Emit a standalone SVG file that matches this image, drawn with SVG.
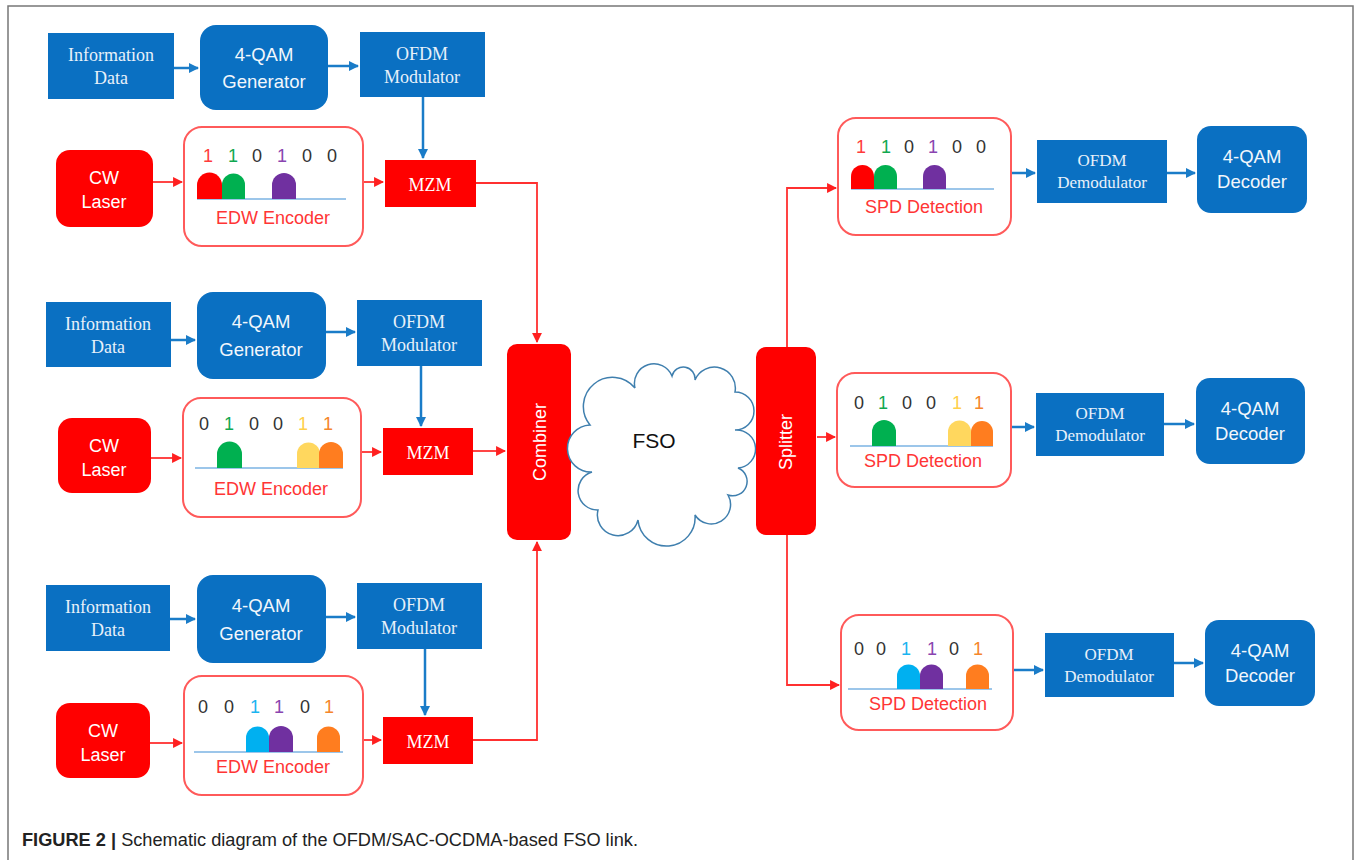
<svg xmlns="http://www.w3.org/2000/svg" width="1354" height="860" viewBox="0 0 1354 860">
<defs>
<style>
.bb{fill:#0a70c2}
.rb{fill:#ff0000}
.enc{fill:#fff;stroke:#ff5a5a;stroke-width:2}
.ts{font-family:"Liberation Serif",serif;font-size:18px;fill:#e8f1fa;text-anchor:middle}
.tsans{font-family:"Liberation Sans",Arial,sans-serif;font-size:18.5px;fill:#f2f7fc;text-anchor:middle}
.tw{font-family:"Liberation Sans",Arial,sans-serif;font-size:18px;fill:#fff;text-anchor:middle}
.tr{font-family:"Liberation Sans",Arial,sans-serif;font-size:18px;fill:#ff3535;text-anchor:middle}
.dg{font-family:"Liberation Sans",Arial,sans-serif;font-size:18px;text-anchor:middle}
.k{fill:#333}.cr{fill:#ff3b3b}.cg{fill:#10a850}.cp{fill:#8a44b0}.cy{fill:#ffcf4a}.co{fill:#f5862a}.cc{fill:#1ab4f0}
.hr{fill:#ff0000}.hg{fill:#00b050}.hp{fill:#7030a0}.hy{fill:#ffd75e}.ho{fill:#ff7d1f}.hc{fill:#00b0f0}
.bl{stroke:#9cc6ea;stroke-width:2}
.cb{fill:none;stroke:#1a7cc8;stroke-width:2.5}
.cred{fill:none;stroke:#ff3030;stroke-width:1.8}
</style>
<marker id="ab" viewBox="0 0 10 10" refX="9" refY="5" markerWidth="4" markerHeight="4" orient="auto" markerUnits="strokeWidth"><path d="M0,0 L10,5 L0,10 Z" fill="#1a7cc8"/></marker>
<marker id="ar" viewBox="0 0 10 10" refX="9" refY="5" markerWidth="5.5" markerHeight="5.5" orient="auto" markerUnits="strokeWidth"><path d="M0,0 L10,5 L0,10 Z" fill="#ff2020"/></marker>
</defs>
<rect width="1354" height="860" fill="#fff"/>
<path d="M8,860 V6 H1353 V860" fill="none" stroke="#777" stroke-width="1.5"/>

<g id="connectors">
<path class="cb" d="M174,68 H198" marker-end="url(#ab)"/>
<path class="cb" d="M328,66 H358" marker-end="url(#ab)"/>
<path class="cb" d="M423,97 V158" marker-end="url(#ab)"/>
<path class="cred" d="M153,182 H182" marker-end="url(#ar)"/>
<path class="cred" d="M363,182 H383" marker-end="url(#ar)"/>
<path class="cred" d="M476,183 H537 V342" marker-end="url(#ar)"/>
<path class="cb" d="M171,340 H195" marker-end="url(#ab)"/>
<path class="cb" d="M326,332 H355" marker-end="url(#ab)"/>
<path class="cb" d="M421,366 V426" marker-end="url(#ab)"/>
<path class="cred" d="M151,458 H181" marker-end="url(#ar)"/>
<path class="cred" d="M361,452 H381" marker-end="url(#ar)"/>
<path class="cred" d="M473,451 H505" marker-end="url(#ar)"/>
<path class="cb" d="M170,619 H195" marker-end="url(#ab)"/>
<path class="cb" d="M326,617 H355" marker-end="url(#ab)"/>
<path class="cb" d="M425,649 V715" marker-end="url(#ab)"/>
<path class="cred" d="M150,743 H182" marker-end="url(#ar)"/>
<path class="cred" d="M363,740 H381" marker-end="url(#ar)"/>
<path class="cred" d="M473,740 H537 V542" marker-end="url(#ar)"/>
<path class="cred" d="M787,347 V188 H836" marker-end="url(#ar)"/>
<path class="cred" d="M817,437 H835" marker-end="url(#ar)"/>
<path class="cred" d="M787,535 V685 H839" marker-end="url(#ar)"/>
<path class="cb" d="M1011,173 H1035" marker-end="url(#ab)"/>
<path class="cb" d="M1167,173 H1195" marker-end="url(#ab)"/>
<path class="cb" d="M1011,427 H1034" marker-end="url(#ab)"/>
<path class="cb" d="M1164,424 H1194" marker-end="url(#ab)"/>
<path class="cb" d="M1013,670 H1043" marker-end="url(#ab)"/>
<path class="cb" d="M1174,663 H1203" marker-end="url(#ab)"/>
</g>

<g id="info1"><rect class="bb" x="48" y="33" width="126" height="66"/><text class="ts" x="111" y="61">Information</text><text class="ts" x="111" y="84">Data</text></g>
<g id="qam1"><rect class="bb" x="200" y="25" width="128" height="85" rx="16"/><text class="tsans" x="264" y="61">4-QAM</text><text class="tsans" x="264" y="88">Generator</text></g>
<g id="ofdm1"><rect class="bb" x="360" y="32" width="125" height="65"/><text class="ts" x="422" y="60">OFDM</text><text class="ts" x="422" y="83">Modulator</text></g>
<g id="cw1"><rect class="rb" x="56" y="150" width="97" height="77" rx="14"/><text class="tw" x="104" y="184">CW</text><text class="tw" x="104" y="208">Laser</text></g>
<g id="enc1"><rect class="enc" x="184" y="127" width="179" height="119" rx="18"/>
<line class="bl" x1="197" y1="199" x2="346" y2="199"/>
<path class="hr" d="M197,199 V185 A12.5,12.5 0 0 1 222,185 V199 Z"/>
<path class="hg" d="M222,199 V185 A11.5,11.5 0 0 1 245,185 V199 Z"/>
<path class="hp" d="M272,199 V185 A12,12 0 0 1 296,185 V199 Z"/>
<text class="dg cr" x="208" y="162">1</text><text class="dg cg" x="233" y="162">1</text><text class="dg k" x="257" y="162">0</text><text class="dg cp" x="282" y="162">1</text><text class="dg k" x="307" y="162">0</text><text class="dg k" x="332" y="162">0</text>
<text class="tr" x="273" y="224">EDW Encoder</text></g>
<g id="mzm1"><rect class="rb" x="385" y="160" width="91" height="47"/><text class="ts" x="430" y="191" style="fill:#fff">MZM</text></g>

<g id="info2"><rect class="bb" x="46" y="302" width="125" height="65"/><text class="ts" x="108" y="330">Information</text><text class="ts" x="108" y="353">Data</text></g>
<g id="qam2"><rect class="bb" x="197" y="292" width="129" height="87" rx="16"/><text class="tsans" x="261" y="328">4-QAM</text><text class="tsans" x="261" y="356">Generator</text></g>
<g id="ofdm2"><rect class="bb" x="357" y="300" width="125" height="66"/><text class="ts" x="419" y="328">OFDM</text><text class="ts" x="419" y="351">Modulator</text></g>
<g id="cw2"><rect class="rb" x="58" y="418" width="93" height="75" rx="14"/><text class="tw" x="104" y="452">CW</text><text class="tw" x="104" y="476">Laser</text></g>
<g id="enc2"><rect class="enc" x="183" y="398" width="178" height="119" rx="18"/>
<line class="bl" x1="195" y1="468" x2="343" y2="468"/>
<path class="hg" d="M217,468 V454 A12.5,12.5 0 0 1 242,454 V468 Z"/>
<path class="hy" d="M297,468 V454 A11.5,11.5 0 0 1 320,454 V468 Z"/>
<path class="ho" d="M319,468 V454 A12,12 0 0 1 343,454 V468 Z"/>
<text class="dg k" x="204" y="430">0</text><text class="dg cg" x="229" y="430">1</text><text class="dg k" x="254" y="430">0</text><text class="dg k" x="278" y="430">0</text><text class="dg cy" x="303" y="430">1</text><text class="dg co" x="328" y="430">1</text>
<text class="tr" x="271" y="495">EDW Encoder</text></g>
<g id="mzm2"><rect class="rb" x="383" y="428" width="90" height="47"/><text class="ts" x="428" y="459" style="fill:#fff">MZM</text></g>

<g id="info3"><rect class="bb" x="46" y="585" width="124" height="66"/><text class="ts" x="108" y="613">Information</text><text class="ts" x="108" y="636">Data</text></g>
<g id="qam3"><rect class="bb" x="197" y="575" width="129" height="88" rx="16"/><text class="tsans" x="261" y="612">4-QAM</text><text class="tsans" x="261" y="640">Generator</text></g>
<g id="ofdm3"><rect class="bb" x="357" y="583" width="125" height="66"/><text class="ts" x="419" y="611">OFDM</text><text class="ts" x="419" y="634">Modulator</text></g>
<g id="cw3"><rect class="rb" x="56" y="703" width="94" height="75" rx="14"/><text class="tw" x="103" y="737">CW</text><text class="tw" x="103" y="761">Laser</text></g>
<g id="enc3"><rect class="enc" x="184" y="676" width="179" height="119" rx="18"/>
<line class="bl" x1="194" y1="752" x2="343" y2="752"/>
<path class="hc" d="M246,752 V738 A11.5,11.5 0 0 1 269,738 V752 Z"/>
<path class="hp" d="M269,752 V738 A12,12 0 0 1 293,738 V752 Z"/>
<path class="ho" d="M317,752 V738 A11.5,11.5 0 0 1 340,738 V752 Z"/>
<text class="dg k" x="203" y="713">0</text><text class="dg k" x="229" y="713">0</text><text class="dg cc" x="255" y="713">1</text><text class="dg cp" x="279" y="713">1</text><text class="dg k" x="305" y="713">0</text><text class="dg co" x="329" y="713">1</text>
<text class="tr" x="273" y="773">EDW Encoder</text></g>
<g id="mzm3"><rect class="rb" x="383" y="717" width="90" height="47"/><text class="ts" x="428" y="748" style="fill:#fff">MZM</text></g>

<g id="combiner"><rect class="rb" x="507" y="344" width="64" height="196" rx="10"/><text class="tw" transform="translate(546,442) rotate(-90)" x="0" y="0">Combiner</text></g>
<g id="fso">
<path d="M590,425 A29,29 0 0 1 635,388 A19.5,19.5 0 0 1 672,376 A11.7,11.7 0 0 1 695,380 A21,21 0 0 1 735,392 A19,19 0 0 1 735,430 A19,19 0 0 1 738,468 A14.4,14.4 0 0 1 728,495 A19.3,19.3 0 0 1 695,515 A28.6,28.6 0 0 1 638,520 A20.6,20.6 0 0 1 598,510 A19.4,19.4 0 0 1 592,472 A23.5,23.5 0 0 1 590,425 Z" fill="#fff" stroke="#3f7fae" stroke-width="1.5"/>
<text x="654" y="448" style="font-family:'Liberation Sans',Arial,sans-serif;font-size:21px;fill:#111;text-anchor:middle">FSO</text>
</g>
<g id="splitter"><rect class="rb" x="756" y="347" width="60" height="188" rx="10"/><text class="tw" transform="translate(792,442) rotate(-90)" x="0" y="0">Splitter</text></g>

<g id="spd1"><rect class="enc" x="838" y="118" width="173" height="117" rx="18"/>
<line class="bl" x1="851" y1="189" x2="994" y2="189"/>
<path class="hr" d="M851,189 V176.5 A11.5,11.5 0 0 1 874,176.5 V189 Z"/>
<path class="hg" d="M874,189 V176.5 A11.5,11.5 0 0 1 897,176.5 V189 Z"/>
<path class="hp" d="M923,189 V176.5 A11.5,11.5 0 0 1 946,176.5 V189 Z"/>
<text class="dg cr" x="861" y="153">1</text><text class="dg cg" x="886" y="153">1</text><text class="dg k" x="909" y="153">0</text><text class="dg cp" x="933" y="153">1</text><text class="dg k" x="957" y="153">0</text><text class="dg k" x="981" y="153">0</text>
<text class="tr" x="924" y="213">SPD Detection</text></g>
<g id="demod1"><rect class="bb" x="1037" y="140" width="130" height="63"/><text class="ts" x="1102" y="166" style="font-size:17px">OFDM</text><text class="ts" x="1102" y="188" style="font-size:17px">Demodulator</text></g>
<g id="dec1"><rect class="bb" x="1197" y="126" width="110" height="87" rx="14"/><text class="tsans" x="1252" y="163">4-QAM</text><text class="tsans" x="1252" y="188">Decoder</text></g>

<g id="spd2"><rect class="enc" x="837" y="373" width="174" height="114" rx="18"/>
<line class="bl" x1="850" y1="446" x2="993" y2="446"/>
<path class="hg" d="M872,446 V432 A12,12 0 0 1 896,432 V446 Z"/>
<path class="hy" d="M948,446 V432 A11.5,11.5 0 0 1 971,432 V446 Z"/>
<path class="ho" d="M971,446 V432 A11,11 0 0 1 993,432 V446 Z"/>
<text class="dg k" x="859" y="409">0</text><text class="dg cg" x="883" y="409">1</text><text class="dg k" x="907" y="409">0</text><text class="dg k" x="931" y="409">0</text><text class="dg cy" x="957" y="409">1</text><text class="dg co" x="979" y="409">1</text>
<text class="tr" x="923" y="467">SPD Detection</text></g>
<g id="demod2"><rect class="bb" x="1036" y="393" width="128" height="63"/><text class="ts" x="1100" y="419" style="font-size:17px">OFDM</text><text class="ts" x="1100" y="441" style="font-size:17px">Demodulator</text></g>
<g id="dec2"><rect class="bb" x="1196" y="378" width="109" height="86" rx="14"/><text class="tsans" x="1250" y="415">4-QAM</text><text class="tsans" x="1250" y="440">Decoder</text></g>

<g id="spd3"><rect class="enc" x="841" y="615" width="172" height="115" rx="18"/>
<line class="bl" x1="848" y1="689" x2="992" y2="689"/>
<path class="hc" d="M897,689 V676 A11.5,11.5 0 0 1 920,676 V689 Z"/>
<path class="hp" d="M920,689 V676 A11.5,11.5 0 0 1 943,676 V689 Z"/>
<path class="ho" d="M966,689 V676 A11.5,11.5 0 0 1 989,676 V689 Z"/>
<text class="dg k" x="859" y="655">0</text><text class="dg k" x="881" y="655">0</text><text class="dg cc" x="906" y="655">1</text><text class="dg cp" x="932" y="655">1</text><text class="dg k" x="954" y="655">0</text><text class="dg co" x="978" y="655">1</text>
<text class="tr" x="928" y="710">SPD Detection</text></g>
<g id="demod3"><rect class="bb" x="1045" y="633" width="129" height="64"/><text class="ts" x="1109" y="660" style="font-size:17px">OFDM</text><text class="ts" x="1109" y="682" style="font-size:17px">Demodulator</text></g>
<g id="dec3"><rect class="bb" x="1205" y="620" width="110" height="86" rx="14"/><text class="tsans" x="1260" y="657">4-QAM</text><text class="tsans" x="1260" y="682">Decoder</text></g>

<g id="caption"><text x="22" y="846" textLength="616" lengthAdjust="spacingAndGlyphs" style="font-family:'Liberation Sans',Arial,sans-serif;font-size:17.5px;fill:#222"><tspan font-weight="bold">FIGURE 2 |</tspan> Schematic diagram of the OFDM/SAC-OCDMA-based FSO link.</text></g>
</svg>
